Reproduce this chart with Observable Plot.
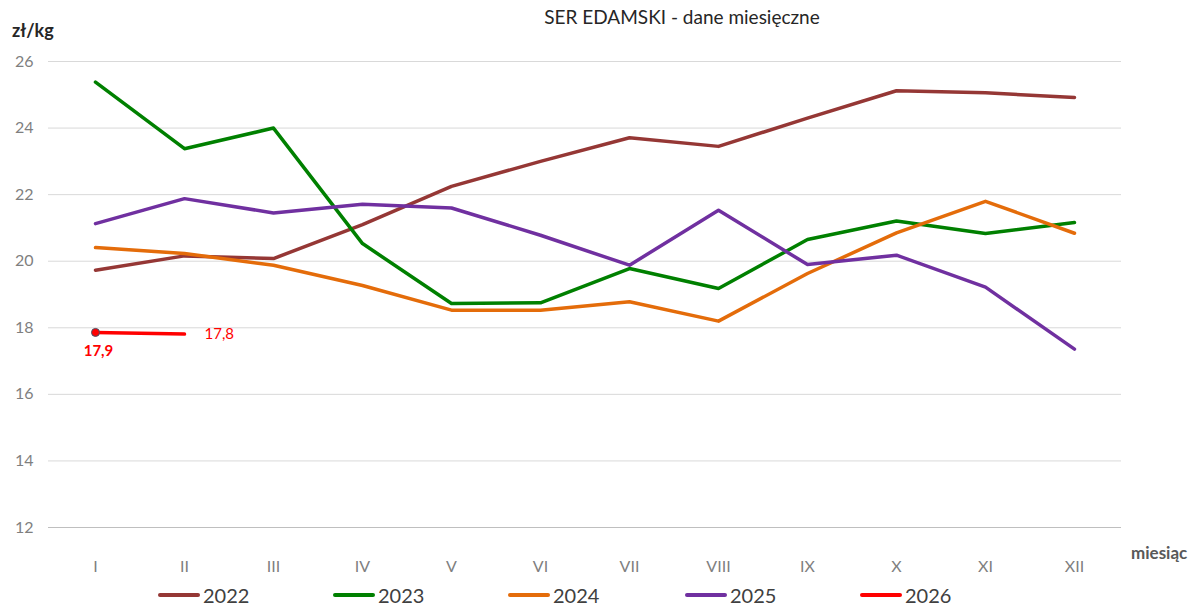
<!DOCTYPE html>
<html>
<head>
<meta charset="utf-8">
<script src="https://cdn.jsdelivr.net/npm/d3@7"></script>
<script src="https://cdn.jsdelivr.net/npm/@observablehq/plot@0.6"></script>
<style>
  html, body { margin: 0; padding: 0; background: #fff; }
  #wrap { position: relative; width: 1193px; height: 612px; overflow: hidden; font-family: Lato, "Open Sans", sans-serif; }
  #chart { position: absolute; left: 0; top: 0; }
  #title { position: absolute; top: 5px; left: 482px; width: 400px; text-align: center; font-size: 19px; color: #262626; }
  #unit { position: absolute; left: 12px; top: 19px; font-size: 18px; font-weight: bold; color: #262626; }
  #xlab { position: absolute; left: 1131px; top: 542px; font-size: 17px; font-weight: bold; color: #595959; }
  #legend { position: absolute; top: 583px; left: 0; width: 1193px; height: 26px; }
  .item { position: absolute; display: flex; align-items: center; font-size: 20px; color: #404040; }
  .swatch { width: 42px; height: 4px; border-radius: 2px; margin-right: 3px; }
</style>
</head>
<body>
<div id="wrap">
  <div id="chart"></div>
  <div id="title">SER EDAMSKI - dane miesięczne</div>
  <div id="unit">zł/kg</div>
  <div id="xlab">miesiąc</div>
  <div id="legend"></div>
</div>
<script>
const months = ["I","II","III","IV","V","VI","VII","VIII","IX","X","XI","XII"];
const yTicks = [12,14,16,18,20,22,24,26];
const years = ["2022","2023","2024","2025","2026"];
const colors = ["#953735","#008000","#E46C0A","#7030A0","#FF0000"];
const v2022 = [19.73, 20.16, 20.08, 21.1, 22.25, 23.0, 23.71, 23.45, 24.3, 25.12, 25.06, 24.92];
const v2023 = [25.38, 23.38, 24.0, 20.53, 18.73, 18.75, 19.78, 19.18, 20.65, 21.21, 20.83, 21.16];
const v2024 = [20.41, 20.23, 19.88, 19.27, 18.53, 18.53, 18.78, 18.2, 19.63, 20.85, 21.8, 20.84];
const v2025 = [21.13, 21.88, 21.45, 21.71, 21.6, 20.78, 19.88, 21.53, 19.9, 20.18, 19.22, 17.36];
const v2026 = [17.86, 17.81];
const labels2026 = ["17,9", "17,8"];

const series = [v2022, v2023, v2024, v2025, v2026];
const rows = [];
series.forEach((vals, i) => vals.forEach((v, j) => rows.push({year: years[i], month: months[j], value: v})));
const r2026 = v2026.map((v, j) => ({month: months[j], value: v, label: labels2026[j]}));

const plot = Plot.plot({
  width: 1193,
  height: 612,
  marginLeft: 48,
  marginRight: 72,
  marginTop: 61,
  marginBottom: 85,
  style: {fontFamily: "Lato, 'Open Sans', sans-serif", background: "transparent"},
  x: {type: "point", domain: months, padding: 0.5, axis: null},
  y: {domain: [12, 26], axis: null},
  color: {domain: years, range: colors},
  marks: [
    Plot.ruleY(yTicks.filter(t => t > 12), {stroke: "#d9d9d9", strokeWidth: 1}),
    Plot.ruleY([12], {stroke: "#bfbfbf", strokeWidth: 1.2}),
    Plot.text(yTicks, {x: () => months[0], y: d => d, text: d => String(d), textAnchor: "end", dx: -62, fontSize: 16, fill: "#7f7f7f"}),
    Plot.text(months, {x: d => d, y: () => 12, text: d => d, dy: 39, fontSize: 16, fill: "#7f7f7f"}),
    Plot.line(rows, {x: "month", y: "value", z: "year", stroke: "year", strokeWidth: 3.5, strokeLinejoin: "round", strokeLinecap: "round"}),
    Plot.dot(r2026.slice(0, 1), {x: "month", y: "value", r: 4, fill: "#FF0000", stroke: "#44546A", strokeWidth: 1}),
    Plot.text(r2026.slice(0, 1), {x: "month", y: "value", text: "label", dy: 19, dx: 3, fontSize: 15, fontWeight: "bold", fill: "#FF0000"}),
    Plot.text(r2026.slice(1), {x: "month", y: "value", text: "label", dx: 20, textAnchor: "start", fontSize: 15, fill: "#FF0000"})
  ]
});
document.getElementById("chart").appendChild(plot);

const legend = document.getElementById("legend");
const starts = [158, 333, 508, 685, 860];
years.forEach((y, i) => {
  const it = document.createElement("div");
  it.className = "item";
  it.style.left = starts[i] + "px";
  const sw = document.createElement("div");
  sw.className = "swatch";
  sw.style.background = colors[i];
  const tx = document.createElement("span");
  tx.textContent = y;
  it.appendChild(sw); it.appendChild(tx);
  legend.appendChild(it);
});
</script>
</body>
</html>
